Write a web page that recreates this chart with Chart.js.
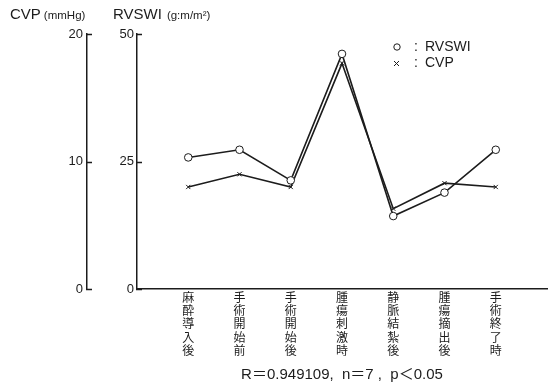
<!DOCTYPE html>
<html>
<head>
<meta charset="utf-8">
<script src="https://cdn.jsdelivr.net/npm/chart.js@4/dist/chart.umd.min.js"></script>
<style>
  html, body { margin: 0; padding: 0; background: #fff; }
  #wrap { width: 552px; height: 387px; }
</style>
</head>
<body>
<div id="wrap"><canvas id="chart"></canvas></div>
<script>
// データ
const categories = ['麻酔導入後', '手術開始前', '手術開始後', '腫瘍刺激時', '静脈結紮後', '腫瘍摘出後', '手術終了時'];
const rvswiValues = [25.8, 27.3, 21.3, 46.1, 14.3, 18.9, 27.3];
const cvpValues = [8.0, 9.0, 8.0, 17.7, 6.3, 8.3, 8.0];
const cvpTicks = [0, 10, 20];
const rvswiTicks = [0, 25, 50];
const note = 'R＝0.949109,  n＝7 ,  p＜0.05';

const INK = '#1c1c1c';
const FONT = '"Liberation Sans", "Noto Sans CJK JP", sans-serif';

// 軸タイトル・内向き目盛・凡例
const extras = {
    id: 'extras',
    afterDraw(chart) {
        const ctx = chart.ctx;
        const area = chart.chartArea;
        const yL = chart.scales.y;
        const yR = chart.scales.y1;
        ctx.save();
        ctx.fillStyle = INK;
        ctx.strokeStyle = INK;

        // 目盛(内向き)
        ctx.lineWidth = 1.3;
        ctx.beginPath();
        [yL, yR].forEach(s => {
            s.ticks.forEach(t => {
                const py = Math.round(s.getPixelForValue(t.value)) + 0.5;
                ctx.moveTo(s.right - 1, py);
                ctx.lineTo(s.right + 5, py);
            });
        });
        ctx.stroke();

        ctx.textBaseline = 'alphabetic';
        let x = 10;
        ctx.font = '15px ' + FONT;
        ctx.fillText('CVP', x, 19);
        x += ctx.measureText('CVP').width + 3;
        ctx.font = '11.5px ' + FONT;
        ctx.fillText('(mmHg)', x, 19);

        x = yR.left + 26;
        ctx.font = '15px ' + FONT;
        ctx.fillText('RVSWI', x, 19);
        x += ctx.measureText('RVSWI').width + 5;
        ctx.font = '11.5px ' + FONT;
        ctx.fillText('(g:m/m²)', x, 19);

        // 凡例
        const lx = area.right - 153;
        const ly = area.top + 13;
        ctx.lineWidth = 1;
        ctx.beginPath();
        ctx.arc(lx + 3, ly, 3.2, 0, Math.PI * 2);
        ctx.stroke();
        ctx.beginPath();
        ctx.moveTo(lx, ly + 14);
        ctx.lineTo(lx + 5, ly + 19);
        ctx.moveTo(lx + 5, ly + 14);
        ctx.lineTo(lx, ly + 19);
        ctx.stroke();
        ctx.textBaseline = 'middle';
        ctx.font = '14px ' + FONT;
        ctx.fillText(':', lx + 20, ly);
        ctx.fillText(':', lx + 20, ly + 16);
        ctx.fillText('RVSWI', lx + 31, ly);
        ctx.fillText('CVP', lx + 31, ly + 16);
        ctx.restore();
    }
};

const ctx = document.getElementById('chart').getContext('2d');

new Chart(ctx, {
    type: 'line',
    data: {
        datasets: [{
            label: 'RVSWI',
            data: rvswiValues.map((v, i) => ({ x: i + 1, y: v })),
            yAxisID: 'y1',
            borderColor: INK,
            borderWidth: 1.6,
            pointStyle: 'circle',
            pointRadius: 3.8,
            pointBackgroundColor: '#fff',
            pointBorderColor: INK,
            pointBorderWidth: 1,
            tension: 0
        }, {
            label: 'CVP',
            data: cvpValues.map((v, i) => ({ x: i + 1, y: v })),
            yAxisID: 'y',
            borderColor: INK,
            borderWidth: 1.6,
            pointStyle: 'crossRot',
            pointRadius: 3,
            pointBorderColor: INK,
            pointBorderWidth: 1,
            tension: 0
        }]
    },
    options: {
        responsive: true,
        maintainAspectRatio: false,
        animation: false,
        layout: { padding: { top: 34, bottom: 1, left: 0, right: 0 } },
        plugins: {
            legend: { display: false },
            tooltip: { enabled: false }
        },
        scales: {
            x: {
                type: 'linear',
                min: 0,
                max: 8,
                border: { display: true, color: INK, width: 1.5 },
                grid: { display: false, drawTicks: false },
                ticks: {
                    stepSize: 1,
                    autoSkip: false,
                    maxRotation: 0,
                    padding: 3,
                    color: INK,
                    font: { family: FONT, size: 12, lineHeight: 1.1 },
                    callback: (v) => (v >= 1 && v <= categories.length) ? categories[v - 1].split('') : ''
                },
                title: {
                    display: true,
                    text: note,
                    color: INK,
                    font: { family: FONT, size: 15 },
                    padding: { top: 5, bottom: 2 }
                }
            },
            y: {
                position: 'left',
                weight: 1,
                min: 0,
                max: 20,
                afterFit: (s) => { s.width = 87; },
                border: { display: true, color: INK, width: 1.5 },
                grid: { display: false, drawTicks: false },
                afterBuildTicks: (s) => { s.ticks = cvpTicks.map(v => ({ value: v })); },
                ticks: { padding: 4, color: INK, font: { family: FONT, size: 13 } }
            },
            y1: {
                position: 'left',
                weight: 0,
                min: 0,
                max: 50,
                afterFit: (s) => { s.width = 50; },
                border: { display: true, color: INK, width: 1.5 },
                grid: { display: false, drawTicks: false },
                afterBuildTicks: (s) => { s.ticks = rvswiTicks.map(v => ({ value: v })); },
                ticks: { padding: 3, color: INK, font: { family: FONT, size: 13 } }
            }
        }
    },
    plugins: [extras]
});
</script>
</body>
</html>
